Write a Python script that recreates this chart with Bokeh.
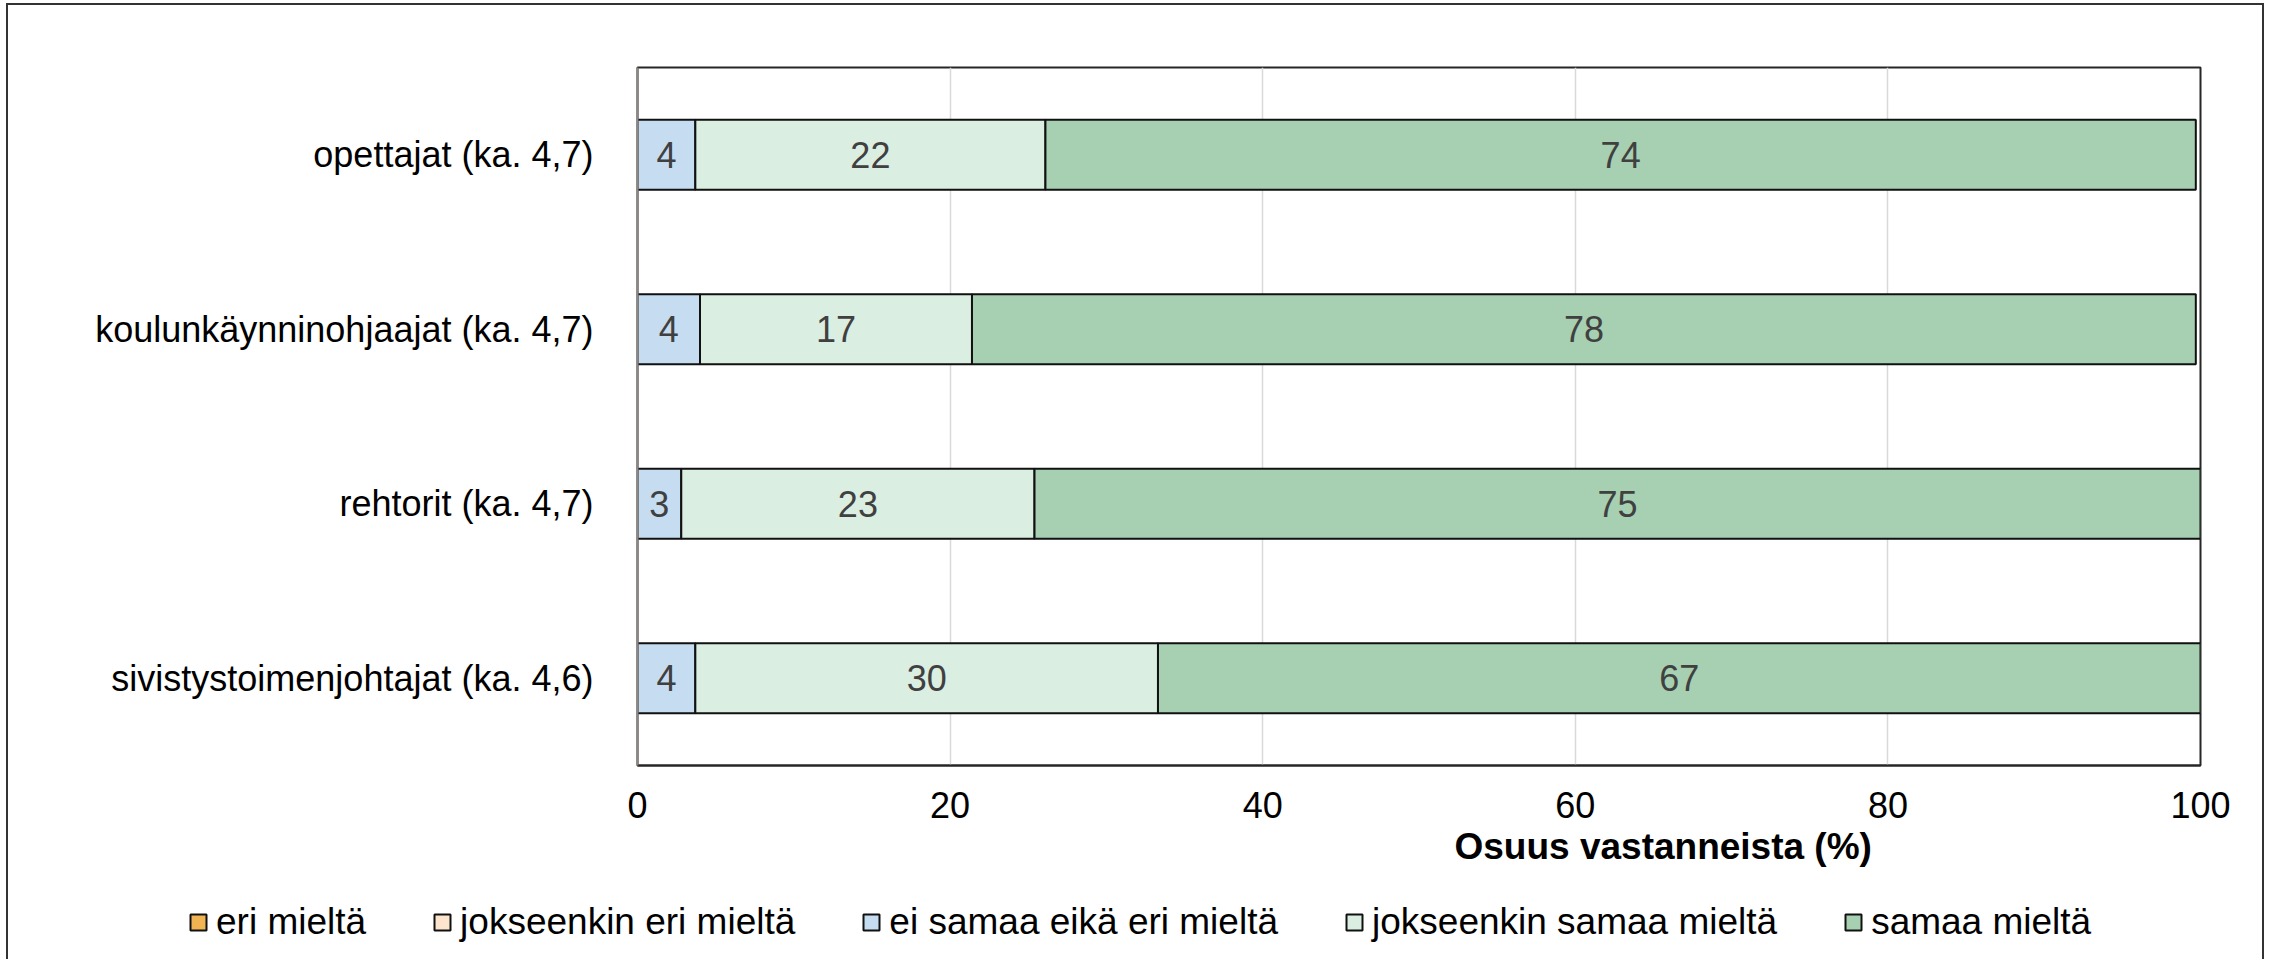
from bokeh.plotting import figure
from bokeh.models import (FactorRange, Range1d, FixedTicker, Legend, LegendItem,
                          Title, ColumnDataSource)
from bokeh.embed import file_html
from bokeh.resources import INLINE
from bokeh.core.properties import value

# ---- data ----
categories = [
    "opettajat (ka. 4,7)",
    "koulunkäynninohjaajat (ka. 4,7)",
    "rehtorit (ka. 4,7)",
    "sivistystoimenjohtajat (ka. 4,6)",
]
series_names = [
    "eri mieltä",
    "jokseenkin eri mieltä",
    "ei samaa eikä eri mieltä",
    "jokseenkin samaa mieltä",
    "samaa mieltä",
]
eri_mielta = [0.0, 0.0, 0.0, 0.0]
jokseenkin_eri_mielta = [0.0, 0.0, 0.0, 0.0]
ei_samaa_eika_eri = [3.7, 4.0, 2.8, 3.7]
jokseenkin_samaa_mielta = [22.4, 17.4, 22.6, 29.6]
samaa_mielta = [73.6, 78.3, 74.6, 66.7]
x_ticks = [0, 20, 40, 60, 80, 100]
x_title = "Osuus vastanneista (%)"

colors = ["#f0b552", "#fde5cd", "#c6dcf1", "#dbeee2", "#a7d0b2"]
FONT = "Liberation Sans"
BORDER = "2px solid #333333"

series = [eri_mielta, jokseenkin_eri_mielta, ei_samaa_eika_eri,
          jokseenkin_samaa_mielta, samaa_mielta]
keys = ["s%d" % i for i in range(len(series))]

data = {"cat": categories}
for k, s in zip(keys, series):
    data[k] = s
src = ColumnDataSource(data)

p = figure(
    width=2258, height=882,
    y_range=FactorRange(factors=list(reversed(categories))),
    x_range=Range1d(0, 100),
    output_backend="svg", toolbar_location=None,
    min_border_left=629, min_border_top=62, min_border_right=66, min_border_bottom=122,
    styles={"border-top": BORDER, "border-left": BORDER, "border-right": BORDER,
            "margin": "3px 0px 0px 6px"},
)
p.background_fill_color = "white"
p.border_fill_color = "white"
p.outline_line_color = "#262626"
p.outline_line_width = 2

renderers = p.hbar_stack(keys, y="cat", height=0.4, fill_color=colors,
                         line_color="#111111", line_width=2, source=src)

# data labels
lx, ly, lt = [], [], []
for i, cat in enumerate(categories):
    left = 0.0
    for s in series:
        v = s[i]
        if v > 0:
            lx.append(left + v / 2.0)
            ly.append(cat)
            lt.append(f"{v:.0f}")
        left += v
lsrc = ColumnDataSource(dict(x=lx, y=ly, t=lt))
p.text(x="x", y="y", text="t", source=lsrc, text_align="center",
       text_baseline="middle", text_color="#404040",
       text_font=value(FONT), text_font_size="36px")

# axes
ticker = FixedTicker(ticks=x_ticks)
p.xaxis.ticker = ticker
p.xaxis.axis_line_color = "#262626"
p.xaxis.axis_line_width = 2
p.xaxis.major_tick_line_color = None
p.xaxis.minor_tick_line_color = None
p.xaxis.major_label_text_font = FONT
p.xaxis.major_label_text_font_size = "36px"
p.xaxis.major_label_text_color = "black"
p.xaxis.major_label_standoff = 20

p.yaxis.axis_line_color = "#8c8783"
p.yaxis.axis_line_width = 2
p.yaxis.major_tick_line_color = None
p.yaxis.minor_tick_line_color = None
p.yaxis.major_label_text_font = FONT
p.yaxis.major_label_text_font_size = "36px"
p.yaxis.major_label_text_color = "black"
p.yaxis.major_label_standoff = 38

p.xgrid.ticker = ticker
p.xgrid.grid_line_color = "#d9d9d9"
p.xgrid.grid_line_width = 1.5
p.ygrid.grid_line_color = None

# axis title (offset to the right as in the reference)
p.add_layout(Title(text=x_title, align="left", offset=817, text_font=FONT,
                   text_font_style="bold", text_font_size="37px",
                   text_color="black", standoff=7), "below")

# ---- legend strip (separate root, so it is not frame-aligned) ----
lg = figure(
    width=2258, height=74,
    x_range=Range1d(0, 1), y_range=Range1d(0, 1),
    output_backend="svg", toolbar_location=None,
    x_axis_location=None, y_axis_location=None,
    min_border=0,
    styles={"border-left": BORDER, "border-right": BORDER,
            "margin": "0px 0px 0px 6px"},
)
lg.outline_line_color = None
lg.grid.grid_line_color = None
lg.background_fill_color = "white"
lg.border_fill_color = "white"
dummies = [lg.hbar(y=[-5], right=[0], left=[0], height=0.4, fill_color=c,
                   line_color="#111111", line_width=2) for c in colors]
legend = Legend(
    items=[LegendItem(label=n, renderers=[r]) for n, r in zip(series_names, dummies)],
    orientation="horizontal", location=(180, 16),
    glyph_width=20, glyph_height=20, label_standoff=8, spacing=66,
    padding=0, margin=0, border_line_alpha=0, background_fill_alpha=0,
    label_text_font=FONT, label_text_font_size="37px", label_text_color="black",
)
lg.add_layout(legend)

open("out.html", "w").write(file_html([p, lg], INLINE))
